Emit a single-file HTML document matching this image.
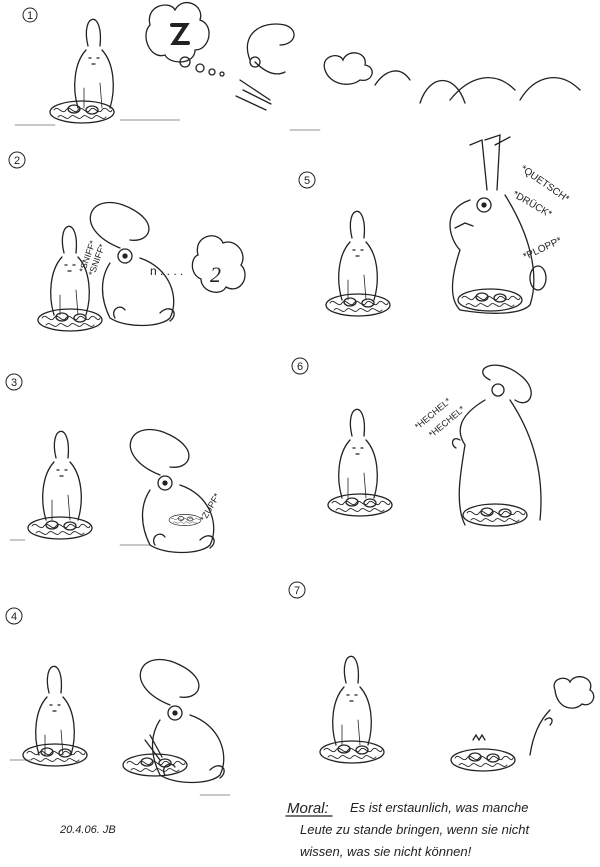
<!DOCTYPE html>
<html><head><meta charset="utf-8"><style>
html,body{margin:0;padding:0;background:#fff}
svg{display:block}
text{font-family:"Liberation Sans",sans-serif;fill:#222}
.h{font-family:"Liberation Serif",serif;font-style:italic}
</style></head><body>
<svg width="600" height="867" viewBox="0 0 600 867" fill="none" stroke="#222" stroke-width="1.3" stroke-linecap="round">
<defs>
<g id="bun">
<path d="M-6,-62 C-14,-95 10,-100 6,-62"/>
<path d="M-8,-58 C-20,-45 -22,-20 -16,0 M8,-58 C20,-45 22,-20 16,0"/>
<path d="M-5,-50 l2,0 M3,-50 l2,0 M-2,-44 l3,0"/>
<path d="M-10,-20 l0,20 M6,-25 l2,25" stroke-width="0.8"/>
</g>
<g id="nest">
<ellipse cx="0" cy="0" rx="32" ry="11"/>
<path d="M-28,-2 c4,-6 8,6 12,0 c4,-6 8,6 12,0 c4,-6 8,6 12,0 c4,-6 8,6 12,0 c4,-6 8,6 10,0 M-24,5 c4,-5 8,5 12,0 c4,-5 8,5 12,0 c4,-5 8,5 12,0 c4,-5 8,5 12,0" stroke-width="0.9"/>
<ellipse cx="-8" cy="-3" rx="6" ry="4"/><ellipse cx="10" cy="-2" rx="6" ry="4"/>
</g>
<g id="big">
<path d="M-10,-70 C-60,-90 -40,-130 0,-110 C30,-95 20,-75 0,-78"/>
<circle cx="-5" cy="-62" r="7"/><circle cx="-5" cy="-62" r="2" fill="#222"/>
<path d="M-20,-55 C-30,-40 -30,-20 -20,0 C-5,10 30,10 40,0 C50,-20 40,-50 10,-60"/>
<path d="M-15,0 c-5,-8 5,-15 10,-8 M30,-5 c10,-10 20,0 10,8"/>
</g>
</defs>

<!-- panel numbers -->
<g stroke-width="1">
<circle cx="30" cy="15" r="7"/><circle cx="17" cy="160" r="8"/><circle cx="307" cy="180" r="8"/>
<circle cx="14" cy="382" r="8"/><circle cx="300" cy="366" r="8"/><circle cx="14" cy="616" r="8"/><circle cx="297" cy="590" r="8"/>
</g>
<g font-size="11" text-anchor="middle" stroke="none">
<text x="30" y="19">1</text><text x="17" y="164">2</text><text x="307" y="184">5</text><text x="14" y="386">3</text>
<text x="300" y="370">6</text><text x="14" y="620">4</text><text x="297" y="594">7</text>
</g>

<!-- panel 1 -->
<use href="#bun" x="94" y="108"/><use href="#nest" x="82" y="112"/>
<path d="M150,25 c-5,-20 20,-25 25,-15 c8,-15 30,-5 25,10 c15,5 10,30 -5,30 c0,15 -25,15 -30,5 c-15,5 -25,-20 -15,-30z" fill="#fff"/>
<path d="M172,25 l14,0 l-12,18 l14,0" stroke-width="4"/>
<circle cx="185" cy="62" r="5"/><circle cx="200" cy="68" r="4"/><circle cx="212" cy="72" r="3"/><circle cx="222" cy="74" r="2"/>
<path d="M250,60 C240,35 260,20 285,25 C300,30 295,45 280,45 M255,62 c10,10 20,15 30,10 M240,80 l30,20 M243,90 l28,14 M236,96 l30,14"/>
<circle cx="255" cy="62" r="5"/>
<path d="M325,70 c-5,-15 15,-18 18,-10 c5,-12 25,-8 22,5 c12,2 8,18 -5,15 c-10,8 -30,5 -35,-10z"/>
<path d="M375,85 c10,-15 25,-20 35,-5 M420,103 c10,-30 35,-30 45,0 M450,100 c20,-25 45,-30 65,-10 M520,100 c15,-25 40,-30 60,-10"/>
<path d="M15,125 l40,0 M120,120 l60,0 M290,130 l30,0" stroke-width="0.6"/>

<!-- panel 2 -->
<use href="#bun" x="70" y="315"/><use href="#nest" x="70" y="320"/>
<use href="#big" x="130" y="318"/>
<path d="M198,255 c-5,-20 20,-25 25,-12 c12,-5 25,10 18,22 c10,10 0,30 -15,22 c-5,10 -25,5 -25,-8 c-12,-5 -10,-22 -3,-24z"/>
<text x="210" y="282" font-size="22" stroke="none" class="h">2</text>
<text x="150" y="275" font-size="12" stroke="none">n . . . .</text>
<g transform="rotate(-70 88 255)" stroke="none"><text x="70" y="258" font-size="9">*SNIFF*</text><text x="70" y="268" font-size="9">*SNIFF*</text></g>

<!-- panel 5 -->
<use href="#bun" x="358" y="300"/><use href="#nest" x="358" y="305"/>
<path d="M470,145 l12,-5 l5,50 M485,140 l15,-5 l-3,55 M495,145 l15,-8"/>
<path d="M470,200 c-30,10 -20,40 -10,50 c-10,30 -10,50 0,60 c30,5 60,5 70,-5 c10,-30 0,-70 -25,-110"/>
<circle cx="484" cy="205" r="7"/><circle cx="484" cy="205" r="2" fill="#222"/>
<path d="M455,228 l10,-5 l8,3"/>
<use href="#nest" x="490" y="300"/>
<ellipse cx="538" cy="278" rx="8" ry="12"/>
<g stroke="none" font-size="10">
<text x="520" y="170" transform="rotate(35 520 170)">*QUETSCH*</text>
<text x="512" y="196" transform="rotate(30 512 196)">*DRÜCK*</text>
<text x="525" y="260" transform="rotate(-25 525 260)">*PLOPP*</text>
</g>

<!-- panel 3 -->
<use href="#bun" x="62" y="520"/><use href="#nest" x="60" y="528"/>
<use href="#big" x="170" y="545"/>
<use href="#nest" x="185" y="520" transform="scale(0.5) translate(185 520)"/>
<text x="205" y="522" font-size="9" stroke="none" transform="rotate(-60 205 522)">*ZUPF*</text>
<path d="M10,540 l15,0 M120,545 l30,0" stroke-width="0.6"/>

<!-- panel 6 -->
<use href="#bun" x="358" y="498"/><use href="#nest" x="360" y="505"/>
<path d="M490,380 C470,370 495,355 520,375 C540,390 530,410 515,400"/>
<circle cx="498" cy="390" r="6"/>
<path d="M485,400 c-25,15 -30,30 -20,45 c-5,30 -10,60 0,80 M510,400 c20,30 35,70 30,120"/>
<use href="#nest" x="495" y="515"/>
<path d="M460,440 c-8,-5 -10,5 -4,8"/>
<g stroke="none" font-size="9">
<text x="418" y="430" transform="rotate(-40 418 430)">*HECHEL*</text>
<text x="432" y="438" transform="rotate(-40 432 438)">*HECHEL*</text>
</g>

<!-- panel 4 -->
<use href="#bun" x="55" y="755"/><use href="#nest" x="55" y="755"/>
<use href="#big" x="180" y="775"/>
<use href="#nest" x="155" y="765"/>
<path d="M145,740 l15,20 M150,735 l12,22"/>
<path d="M10,760 l20,0 M200,795 l30,0" stroke-width="0.6"/>

<!-- panel 7 -->
<use href="#bun" x="352" y="745"/><use href="#nest" x="352" y="752"/>
<use href="#nest" x="483" y="760"/>
<path d="M473,740 l3,-5 l3,5 l3,-5 l3,5"/>
<path d="M555,690 c-5,-12 12,-15 15,-8 c5,-10 25,-5 20,8 c8,5 2,18 -8,14 c-8,8 -25,5 -27,-14z"/>
<path d="M530,755 c3,-20 10,-35 20,-45 M545,720 c5,-5 10,0 5,5"/>

<!-- moral -->
<g stroke="none" class="h" font-size="13">
<text x="287" y="813" font-size="15">Moral:</text>
<text x="350" y="812">Es ist erstaunlich, was manche</text>
<text x="300" y="834">Leute zu stande bringen, wenn sie nicht</text>
<text x="300" y="856">wissen, was sie nicht können!</text>
<text x="60" y="833" font-size="11">20.4.06. JB</text>
</g>
<path d="M286,816 l46,0"/>
</svg>
</body></html>
